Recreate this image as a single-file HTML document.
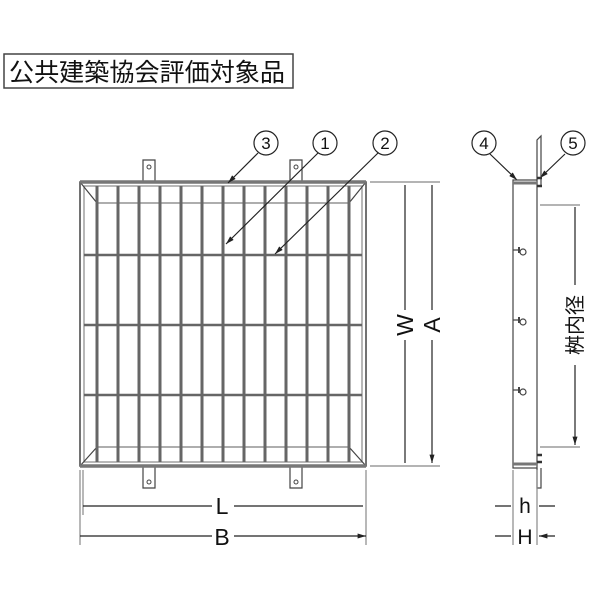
<!DOCTYPE html>
<html><head><meta charset="utf-8"><style>body{margin:0;background:#fff}svg{display:block}</style></head><body>
<svg width="600" height="600" viewBox="0 0 600 600" xmlns="http://www.w3.org/2000/svg" font-family="Liberation Sans, Noto Sans CJK JP, sans-serif">
<defs><marker id="a" viewBox="0 0 10 10" refX="10" refY="5" markerWidth="7" markerHeight="7" orient="auto-start-reverse"><path d="M0,2L10,5L0,8z" fill="#222"/></marker></defs>
<rect x="4" y="54" width="289" height="34" fill="#fff" stroke="#444" stroke-width="1.5"/>
<text x="147" y="81" font-size="25" text-anchor="middle" fill="#111" textLength="276" lengthAdjust="spacingAndGlyphs">公共建築協会評価対象品</text>
<g stroke="#444" fill="none">
<path d="M143,182V160h12v22M290,182V160h12v22M143,466v22h12v-22M290,466v22h12v-22" stroke-width="1.2"/>
<circle cx="149" cy="167" r="2"/><circle cx="296" cy="167" r="2"/><circle cx="149" cy="482" r="2"/><circle cx="296" cy="482" r="2"/>
<rect x="80" y="182" width="286" height="284" stroke-width="1.5"/>
<rect x="84" y="186" width="278" height="276" stroke="#888" stroke-width="1.2"/>
<rect x="97" y="203" width="252" height="244" stroke="#777" stroke-width="1.2"/>
<path d="M80,182L97,203M366,182L349,203M80,466L97,447M366,466L349,447" stroke-width="1.2"/>
<path d="M84,255H362M84,325H362M84,395H362" stroke="#666" stroke-width="2.5"/>
</g>
<g stroke="#666" stroke-width="3">
<path d="M97,186V462M118,186V462M139,186V462M160,186V462M181,186V462M202,186V462M223,186V462M244,186V462M265,186V462M286,186V462M307,186V462M328,186V462M349,186V462"/>
</g>
<path d="M80,182H366M80,466H366" stroke="#777" stroke-width="3.5"/>
<g fill="#fff" stroke="#222" stroke-width="1.2">
<circle cx="266" cy="143" r="12"/><circle cx="325" cy="143" r="12"/><circle cx="385" cy="143" r="12"/>
<circle cx="484" cy="143" r="12"/><circle cx="573" cy="143" r="12"/></g>
<g font-size="17" text-anchor="middle" fill="#111">
<text x="266" y="149">3</text><text x="325" y="149">1</text><text x="385" y="149">2</text><text x="484" y="149">4</text><text x="573" y="149">5</text></g>
<g stroke="#222" stroke-width="1.2" fill="none">
<path d="M258,153L228,183" marker-end="url(#a)"/>
<path d="M318,153L226,244" marker-end="url(#a)"/>
<path d="M378,153L275,254" marker-end="url(#a)"/>
<path d="M490,154L517,180" marker-end="url(#a)"/>
<path d="M565,154L540,178" marker-end="url(#a)"/>
<path d="M370,182H440M370,466H440" stroke="#888"/>
<path d="M405,310V185M405,340V463M432,310V185M432,340V463" marker-end="url(#a)"/>
<path d="M80,470V545M366,470V545M83,470V515" stroke="#888"/>
<path d="M212,506H83M234,506H363M212,536H80M234,536H366" marker-end="url(#a)"/>
</g>
<g font-size="23" fill="#111" text-anchor="middle">
<text x="222" y="514">L</text><text x="222" y="545">B</text>
<text transform="translate(405,325) rotate(-90)" y="8">W</text>
<text transform="translate(432,325) rotate(-90)" y="8">A</text>
</g>
<g stroke="#444" fill="none" stroke-width="1.2">
<rect x="513" y="180" width="24" height="288"/>
<path d="M513,183H537M513,464H537" stroke="#777" stroke-width="3"/>
<path d="M537,180V140l4,-4v50M537,468V488h4v-20"/>
<path d="M513,250h6M513,320h6M513,390h6"/>
<path d="M519,247v6M519,317v6M519,387v6" stroke-width="2"/>
<circle cx="523" cy="252" r="3"/><circle cx="523" cy="322" r="3"/><circle cx="523" cy="392" r="3"/>
<path d="M537,178h5M537,186h5M537,455h5M537,462h5" stroke="#333" stroke-width="2.5"/>
<path d="M540,205H580M540,447H580M513,470V545M537,470V545" stroke="#888"/>
</g>
<g stroke="#222" fill="none" stroke-width="1.2">
<path d="M575,285V207M575,365V445" marker-end="url(#a)"/>
<path d="M495,506H511M555,506H539M495,536H511M555,536H539" marker-end="url(#a)"/>
</g>
<text transform="translate(575,325) rotate(-90)" y="7" font-size="20" text-anchor="middle" fill="#111">桝内径</text>
<g font-size="21" fill="#111" text-anchor="middle"><text x="525" y="513">h</text><text x="525" y="544">H</text></g>
</svg>
</body></html>
